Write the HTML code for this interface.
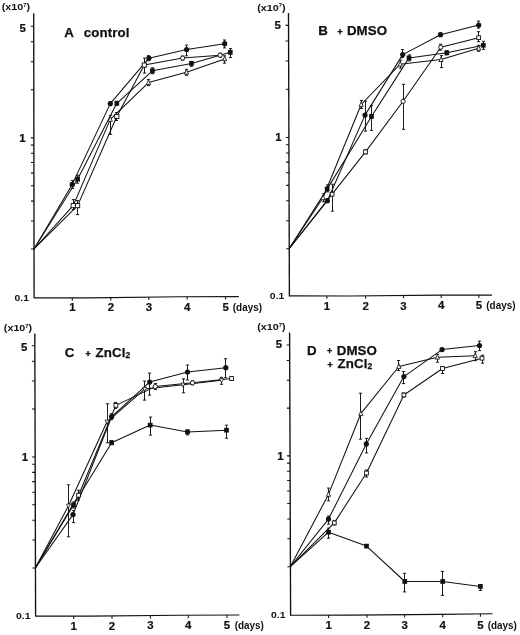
<!DOCTYPE html>
<html lang="en"><head><meta charset="utf-8"><title>Figure</title>
<style>
html,body{margin:0;padding:0;background:#fff;}
body{width:520px;height:635px;overflow:hidden;}
svg{display:block;}
text{font-family:"Liberation Sans", sans-serif;font-weight:bold;fill:#111;}
.tk{font-size:10.2px;stroke:#111;stroke-width:0.2px;}
.dy{font-size:10px;}
.tz{font-size:9.9px;}
.xl{font-size:9.3px;}
.tt{font-size:13.3px;letter-spacing:0.1px;stroke:#111;stroke-width:0.25px;}
.pl{font-size:8.8px;stroke:#111;stroke-width:0.4px;}
</style></head><body>
<svg width="520" height="635" viewBox="0 0 520 635">
<rect width="520" height="635" fill="#fff"/>
<g id="panelA">
<path d="M33.7 13.2 L34.1 298.3" fill="none" stroke="#111" stroke-width="1.35"/>
<path d="M34.1 297.8 L90 297.9 L180 296.7 L238.8 296.6" fill="none" stroke="#111" stroke-width="1.15"/>
<path d="M31.03 248.99H34.03M30.99 220.99H33.99M30.96 201.12H33.96M30.94 185.71H33.94M30.92 173.12H33.92M30.91 162.48H33.91M30.9 153.26H33.9M30.89 145.13H33.89M30.88 137.85H33.88M30.81 89.81H33.81M30.77 61.7H33.77M30.74 41.76H33.74M30.72 26.29H33.72" stroke="#111" stroke-width="1.05" fill="none"/>
<path d="M72.3 297.87V300.77M110.8 297.62V300.52M148.8 297.12V300.02M187.2 296.69V299.59M225.6 296.62V299.52" stroke="#111" stroke-width="1.05" fill="none"/>
<text class="tk" transform="translate(25.92 31.59) scale(1.12 1)" text-anchor="end">5</text>
<text class="tk" transform="translate(25.48 141.95) scale(1.12 1)" text-anchor="end">1</text>
<text class="tz" transform="translate(29 300.5) scale(1.05 1)" text-anchor="end">0.1</text>
<text class="tk" transform="translate(72.3 311.2) scale(1.12 1)" text-anchor="middle">1</text>
<text class="tk" transform="translate(110.8 311.05) scale(1.12 1)" text-anchor="middle">2</text>
<text class="tk" transform="translate(148.8 310.9) scale(1.12 1)" text-anchor="middle">3</text>
<text class="tk" transform="translate(187.2 310.75) scale(1.12 1)" text-anchor="middle">4</text>
<text class="tk" transform="translate(225.6 310.6) scale(1.12 1)" text-anchor="middle">5</text>
<text class="dy" x="232.8" y="310.6" textLength="29.2" lengthAdjust="spacingAndGlyphs">(days)</text>
<text class="xl" x="1.7" y="10.1" textLength="28.3" lengthAdjust="spacingAndGlyphs">(x10<tspan font-size="5" dy="-3.6">7</tspan><tspan dy="3.6">)</tspan></text>
<path d="M34 248.99L72.2 184.4L110.3 103.6L148.9 58.2L186.6 49.5L224.7 43.7" fill="none" stroke="#111" stroke-width="1.05" stroke-linejoin="round"/>
<path d="M34 248.99L77.6 179.2L116.8 103.3L152.4 70.8L191.5 63.4L230.3 52.3" fill="none" stroke="#111" stroke-width="1.05" stroke-linejoin="round"/>
<path d="M34 248.99L77.6 205.6L116.8 116.5L144.3 65.1L182.7 58.1L220.1 55.2" fill="none" stroke="#111" stroke-width="1.05" stroke-linejoin="round"/>
<path d="M34 248.99L73.2 205.6L110.3 119.4L148.5 82.6L186.4 72.3L224.7 58.9" fill="none" stroke="#111" stroke-width="1.05" stroke-linejoin="round"/>
<path d="M72.5 180.4V188.4M70.9 180.4h3.2M70.9 188.4h3.2M110.5 101.6V105.6M108.9 101.6h3.2M108.9 105.6h3.2M148.5 55.7V60.7M146.9 55.7h3.2M146.9 60.7h3.2M186.5 45.1V55.8M184.9 45.1h3.2M184.9 55.8h3.2M224.5 40V47.9M222.9 40h3.2M222.9 47.9h3.2M77.5 175.2V183.2M75.9 175.2h3.2M75.9 183.2h3.2M116.5 101.3V105.3M114.9 101.3h3.2M114.9 105.3h3.2M152.5 67.8V73.8M150.9 67.8h3.2M150.9 73.8h3.2M191.5 61.4V66.3M189.9 61.4h3.2M189.9 66.3h3.2M230.5 48.6V57.6M228.9 48.6h3.2M228.9 57.6h3.2M77.5 200.6V214.6M75.9 200.6h3.2M75.9 214.6h3.2M116.5 112.5V120.5M114.9 112.5h3.2M114.9 120.5h3.2M144.5 58.1V73.1M142.9 58.1h3.2M142.9 73.1h3.2M182.5 56.1V60.1M180.9 56.1h3.2M180.9 60.1h3.2M220.5 53.2V57.2M218.9 53.2h3.2M218.9 57.2h3.2M73.5 199.6V209.6M71.9 199.6h3.2M71.9 209.6h3.2M110.5 115.4V134.4M108.9 115.4h3.2M108.9 134.4h3.2M148.5 79.6V85.6M146.9 79.6h3.2M146.9 85.6h3.2M186.5 69.3V75.3M184.9 69.3h3.2M184.9 75.3h3.2M224.5 55.8V63.2M222.9 55.8h3.2M222.9 63.2h3.2" fill="none" stroke="#111" stroke-width="0.95"/>
<circle cx="72.2" cy="184.4" r="2.6" fill="#111"/>
<circle cx="110.3" cy="103.6" r="2.6" fill="#111"/>
<circle cx="148.9" cy="58.2" r="2.6" fill="#111"/>
<circle cx="186.6" cy="49.5" r="2.6" fill="#111"/>
<circle cx="224.7" cy="43.7" r="2.6" fill="#111"/>
<rect x="75.25" y="176.85" width="4.7" height="4.7" fill="#111"/>
<rect x="114.45" y="100.95" width="4.7" height="4.7" fill="#111"/>
<rect x="150.05" y="68.45" width="4.7" height="4.7" fill="#111"/>
<rect x="189.15" y="61.05" width="4.7" height="4.7" fill="#111"/>
<rect x="227.95" y="49.95" width="4.7" height="4.7" fill="#111"/>
<rect x="75.5" y="203.5" width="4.2" height="4.2" fill="#fff" stroke="#111" stroke-width="0.9"/>
<rect x="114.7" y="114.4" width="4.2" height="4.2" fill="#fff" stroke="#111" stroke-width="0.9"/>
<rect x="142.2" y="63" width="4.2" height="4.2" fill="#fff" stroke="#111" stroke-width="0.9"/>
<circle cx="182.7" cy="58.1" r="2.1" fill="#fff" stroke="#111" stroke-width="0.95"/>
<circle cx="220.1" cy="55.2" r="2.1" fill="#fff" stroke="#111" stroke-width="0.95"/>
<rect x="71.1" y="203.5" width="4.2" height="4.2" fill="#fff" stroke="#111" stroke-width="0.9"/>
<polygon points="110.3,116.6 108.25,121.3 112.35,121.3" fill="#fff" stroke="#111" stroke-width="0.85"/>
<polygon points="148.5,79.8 146.45,84.5 150.55,84.5" fill="#fff" stroke="#111" stroke-width="0.85"/>
<polygon points="186.4,69.5 184.35,74.2 188.45,74.2" fill="#fff" stroke="#111" stroke-width="0.85"/>
<polygon points="224.7,56.1 222.65,60.8 226.75,60.8" fill="#fff" stroke="#111" stroke-width="0.85"/>
</g>
<g id="panelB">
<path d="M288.5 13 L289.4 296.4" fill="none" stroke="#111" stroke-width="1.35"/>
<path d="M289.4 295.9 L350 296 L440 295.1 L491.9 295.1" fill="none" stroke="#111" stroke-width="1.15"/>
<path d="M286.25 248.71H289.25M286.16 220.69H289.16M286.1 200.81H289.1M286.05 185.39H289.05M286.01 172.8H289.01M285.97 162.14H288.97M285.95 152.92H288.95M285.92 144.78H288.92M285.9 137.5H288.9M285.74 89.21H288.74M285.65 60.97H288.65M285.59 40.93H288.59M285.54 25.39H288.54" stroke="#111" stroke-width="1.05" fill="none"/>
<path d="M326.9 295.96V298.86M365.6 295.84V298.74M403.5 295.47V298.37M441.2 295.1V298M478.9 295.1V298" stroke="#111" stroke-width="1.05" fill="none"/>
<text class="tk" transform="translate(280.94 28.69) scale(1.12 1)" text-anchor="end">5</text>
<text class="tk" transform="translate(281.6 141.2) scale(1.12 1)" text-anchor="end">1</text>
<text class="tz" transform="translate(284.3 298.6) scale(1.05 1)" text-anchor="end">0.1</text>
<text class="tk" transform="translate(326.9 310.4) scale(1.12 1)" text-anchor="middle">1</text>
<text class="tk" transform="translate(365.6 310.02) scale(1.12 1)" text-anchor="middle">2</text>
<text class="tk" transform="translate(403.5 309.65) scale(1.12 1)" text-anchor="middle">3</text>
<text class="tk" transform="translate(441.2 309.27) scale(1.12 1)" text-anchor="middle">4</text>
<text class="tk" transform="translate(478.9 308.9) scale(1.12 1)" text-anchor="middle">5</text>
<text class="dy" x="486.3" y="309" textLength="29.2" lengthAdjust="spacingAndGlyphs">(days)</text>
<text class="xl" x="257.2" y="10.8" textLength="28.3" lengthAdjust="spacingAndGlyphs">(x10<tspan font-size="5" dy="-3.6">7</tspan><tspan dy="3.6">)</tspan></text>
<path d="M289.1 248.71L327.4 200.7L365 115.1L402.7 54.6L440.5 34.7L478.7 25.1" fill="none" stroke="#111" stroke-width="1.05" stroke-linejoin="round"/>
<path d="M289.1 248.71L327.2 188.9L371.5 116.4L409 57.9L446.8 52.8L483.3 45.3" fill="none" stroke="#111" stroke-width="1.05" stroke-linejoin="round"/>
<path d="M289.1 248.71L332.1 194.2L365.5 151.9L403.1 101.3L440.8 47.2L478.7 37.7" fill="none" stroke="#111" stroke-width="1.05" stroke-linejoin="round"/>
<path d="M289.1 248.71L323 197.8L361.2 104.5L400.2 64.2L441 59.6L478.7 48.3" fill="none" stroke="#111" stroke-width="1.05" stroke-linejoin="round"/>
<path d="M327.5 198.7V202.7M325.9 198.7h3.2M325.9 202.7h3.2M365.5 101.1V131.1M363.9 101.1h3.2M363.9 131.1h3.2M402.5 49.6V57.6M400.9 49.6h3.2M400.9 57.6h3.2M440.5 33.2V36.2M438.9 33.2h3.2M438.9 36.2h3.2M478.5 21.1V28.1M476.9 21.1h3.2M476.9 28.1h3.2M327.5 184.9V191.9M325.9 184.9h3.2M325.9 191.9h3.2M371.5 105.4V130.4M369.9 105.4h3.2M369.9 130.4h3.2M409.5 54.9V60.9M407.9 54.9h3.2M407.9 60.9h3.2M446.5 50.8V54.8M444.9 50.8h3.2M444.9 54.8h3.2M483.5 41.3V49.3M481.9 41.3h3.2M481.9 49.3h3.2M332.5 184.2V211.2M330.9 184.2h3.2M330.9 211.2h3.2M365.5 149.9V153.9M363.9 149.9h3.2M363.9 153.9h3.2M403.5 84.3V129.3M401.9 84.3h3.2M401.9 129.3h3.2M440.5 44.2V50.2M438.9 44.2h3.2M438.9 50.2h3.2M478.5 31.7V41.7M476.9 31.7h3.2M476.9 41.7h3.2M323.5 193.8V201.8M321.9 193.8h3.2M321.9 201.8h3.2M361.5 100.5V108.5M359.9 100.5h3.2M359.9 108.5h3.2M400.5 60.2V68.2M398.9 60.2h3.2M398.9 68.2h3.2M441.5 55.6V67.6M439.9 55.6h3.2M439.9 67.6h3.2M478.5 45.3V51.3M476.9 45.3h3.2M476.9 51.3h3.2" fill="none" stroke="#111" stroke-width="0.95"/>
<circle cx="327.4" cy="200.7" r="2.6" fill="#111"/>
<circle cx="365" cy="115.1" r="2.6" fill="#111"/>
<circle cx="402.7" cy="54.6" r="2.6" fill="#111"/>
<circle cx="440.5" cy="34.7" r="2.6" fill="#111"/>
<circle cx="478.7" cy="25.1" r="2.6" fill="#111"/>
<rect x="324.85" y="186.55" width="4.7" height="4.7" fill="#111"/>
<rect x="369.15" y="114.05" width="4.7" height="4.7" fill="#111"/>
<rect x="406.65" y="55.55" width="4.7" height="4.7" fill="#111"/>
<rect x="444.45" y="50.45" width="4.7" height="4.7" fill="#111"/>
<rect x="480.95" y="42.95" width="4.7" height="4.7" fill="#111"/>
<rect x="330.2" y="192.3" width="3.8" height="3.8" fill="#fff" stroke="#111" stroke-width="0.9"/>
<rect x="363.6" y="150" width="3.8" height="3.8" fill="#fff" stroke="#111" stroke-width="0.9"/>
<circle cx="403.1" cy="101.3" r="2.1" fill="#fff" stroke="#111" stroke-width="0.95"/>
<circle cx="440.8" cy="47.2" r="2.1" fill="#fff" stroke="#111" stroke-width="0.95"/>
<rect x="476.8" y="35.8" width="3.8" height="3.8" fill="#fff" stroke="#111" stroke-width="0.9"/>
<polygon points="323,195 320.95,199.7 325.05,199.7" fill="#fff" stroke="#111" stroke-width="0.85"/>
<polygon points="361.2,101.7 359.15,106.4 363.25,106.4" fill="#fff" stroke="#111" stroke-width="0.85"/>
<polygon points="400.2,61.4 398.15,66.1 402.25,66.1" fill="#fff" stroke="#111" stroke-width="0.85"/>
<polygon points="441,56.8 438.95,61.5 443.05,61.5" fill="#fff" stroke="#111" stroke-width="0.85"/>
<polygon points="478.7,45.5 476.65,50.2 480.75,50.2" fill="#fff" stroke="#111" stroke-width="0.85"/>
</g>
<g id="panelC">
<path d="M34.8 333.6 L35.6 616.6" fill="none" stroke="#111" stroke-width="1.35"/>
<path d="M35.6 616.1 L90 616.1 L180 615.3 L239.4 615" fill="none" stroke="#111" stroke-width="1.15"/>
<path d="M32.46 568H35.46M32.38 540.03H35.38M32.33 520.19H35.33M32.28 504.8H35.28M32.25 492.23H35.25M32.22 481.6H35.22M32.19 472.39H35.19M32.17 464.27H35.17M32.15 457H35.15M32.01 409.08H35.01M31.93 381.04H34.93M31.88 361.15H34.88M31.83 345.72H34.83" stroke="#111" stroke-width="1.05" fill="none"/>
<path d="M73.7 616.1V619M112 615.9V618.8M150.4 615.56V618.46M188.2 615.26V618.16M227 615.06V617.96" stroke="#111" stroke-width="1.05" fill="none"/>
<text class="tk" transform="translate(27.43 350.67) scale(1.12 1)" text-anchor="end">5</text>
<text class="tk" transform="translate(28.05 460.8) scale(1.12 1)" text-anchor="end">1</text>
<text class="tz" transform="translate(30.5 618.8) scale(1.05 1)" text-anchor="end">0.1</text>
<text class="tk" transform="translate(73.7 629.9) scale(1.12 1)" text-anchor="middle">1</text>
<text class="tk" transform="translate(112 629.55) scale(1.12 1)" text-anchor="middle">2</text>
<text class="tk" transform="translate(150.4 629.2) scale(1.12 1)" text-anchor="middle">3</text>
<text class="tk" transform="translate(188.2 628.85) scale(1.12 1)" text-anchor="middle">4</text>
<text class="tk" transform="translate(227 628.5) scale(1.12 1)" text-anchor="middle">5</text>
<text class="dy" x="234.7" y="628.5" textLength="29.2" lengthAdjust="spacingAndGlyphs">(days)</text>
<text class="xl" x="3.85" y="331.4" textLength="28.3" lengthAdjust="spacingAndGlyphs">(x10<tspan font-size="5" dy="-3.6">7</tspan><tspan dy="3.6">)</tspan></text>
<path d="M35.3 568L73 514.6L111.6 416.7L149.7 382.1L187.5 372L225.8 367.7" fill="none" stroke="#111" stroke-width="1.05" stroke-linejoin="round"/>
<path d="M35.3 568L73.5 505L111.6 442.7L150.2 425.1L187.5 431.9L226.5 430.2" fill="none" stroke="#111" stroke-width="1.05" stroke-linejoin="round"/>
<path d="M35.3 568L78.6 495.2L115.9 405.4L155.3 386.6L192.5 382.8L231.6 378.5" fill="none" stroke="#111" stroke-width="1.05" stroke-linejoin="round"/>
<path d="M35.3 568L68.5 505.8L107 421.8L144.7 389.1L183 384.8L221.5 380.3" fill="none" stroke="#111" stroke-width="1.05" stroke-linejoin="round"/>
<path d="M73.5 510.6V522.6M71.9 510.6h3.2M71.9 522.6h3.2M111.5 413.7V419.7M109.9 413.7h3.2M109.9 419.7h3.2M149.5 373.1V395.1M147.9 373.1h3.2M147.9 395.1h3.2M187.5 365V380M185.9 365h3.2M185.9 380h3.2M225.5 358.7V377.7M223.9 358.7h3.2M223.9 377.7h3.2M73.5 502V508M71.9 502h3.2M71.9 508h3.2M111.5 440.7V444.7M109.9 440.7h3.2M109.9 444.7h3.2M150.5 417.1V435.1M148.9 417.1h3.2M148.9 435.1h3.2M187.5 429.9V434.9M185.9 429.9h3.2M185.9 434.9h3.2M226.5 425.2V438.2M224.9 425.2h3.2M224.9 438.2h3.2M78.5 490.2V500.2M76.9 490.2h3.2M76.9 500.2h3.2M115.5 402.4V408.4M113.9 402.4h3.2M113.9 408.4h3.2M155.5 383.6V389.6M153.9 383.6h3.2M153.9 389.6h3.2M192.5 380.8V384.8M190.9 380.8h3.2M190.9 384.8h3.2M231.5 376.5V380.5M229.9 376.5h3.2M229.9 380.5h3.2M68.5 484.8V536.8M66.9 484.8h3.2M66.9 536.8h3.2M107.5 403.8V442.8M105.9 403.8h3.2M105.9 442.8h3.2M144.5 381.1V400.1M142.9 381.1h3.2M142.9 400.1h3.2M183.5 378.8V392.8M181.9 378.8h3.2M181.9 392.8h3.2M221.5 377.3V384.3M219.9 377.3h3.2M219.9 384.3h3.2" fill="none" stroke="#111" stroke-width="0.95"/>
<circle cx="73" cy="514.6" r="2.6" fill="#111"/>
<circle cx="111.6" cy="416.7" r="2.6" fill="#111"/>
<circle cx="149.7" cy="382.1" r="2.6" fill="#111"/>
<circle cx="187.5" cy="372" r="2.6" fill="#111"/>
<circle cx="225.8" cy="367.7" r="2.6" fill="#111"/>
<rect x="71.15" y="502.65" width="4.7" height="4.7" fill="#111"/>
<rect x="109.25" y="440.35" width="4.7" height="4.7" fill="#111"/>
<rect x="147.85" y="422.75" width="4.7" height="4.7" fill="#111"/>
<rect x="185.15" y="429.55" width="4.7" height="4.7" fill="#111"/>
<rect x="224.15" y="427.85" width="4.7" height="4.7" fill="#111"/>
<rect x="76.7" y="493.3" width="3.8" height="3.8" fill="#fff" stroke="#111" stroke-width="0.9"/>
<rect x="114" y="403.5" width="3.8" height="3.8" fill="#fff" stroke="#111" stroke-width="0.9"/>
<circle cx="155.3" cy="386.6" r="2.1" fill="#fff" stroke="#111" stroke-width="0.95"/>
<circle cx="192.5" cy="382.8" r="2.1" fill="#fff" stroke="#111" stroke-width="0.95"/>
<rect x="229.7" y="376.6" width="3.8" height="3.8" fill="#fff" stroke="#111" stroke-width="0.9"/>
<polygon points="66.5,504.1 70.5,504.1 68.5,508.1" fill="#fff" stroke="#111" stroke-width="0.8"/>
<polygon points="105,420.1 109,420.1 107,424.1" fill="#fff" stroke="#111" stroke-width="0.8"/>
<polygon points="142.7,387.4 146.7,387.4 144.7,391.4" fill="#fff" stroke="#111" stroke-width="0.8"/>
<polygon points="181,383.1 185,383.1 183,387.1" fill="#fff" stroke="#111" stroke-width="0.8"/>
<polygon points="219.5,378.6 223.5,378.6 221.5,382.6" fill="#fff" stroke="#111" stroke-width="0.8"/>
</g>
<g id="panelD">
<path d="M289.6 332.6 L290.6 615.7" fill="none" stroke="#111" stroke-width="1.35"/>
<path d="M290.6 615.2 L350 615.05 L440 614.4 L492.5 613.8" fill="none" stroke="#111" stroke-width="1.15"/>
<path d="M287.43 566.71H290.43M287.33 538.78H290.33M287.26 518.96H290.26M287.21 503.59H290.21M287.16 491.04H290.16M287.12 480.42H290.12M287.09 471.22H290.09M287.06 463.11H290.06M287.04 455.85H290.04M286.87 408.14H289.87M286.77 380.23H289.77M286.7 360.42H289.7M286.64 345.06H289.64" stroke="#111" stroke-width="1.05" fill="none"/>
<path d="M328.6 615.1V618M367 614.93V617.83M404.6 614.66V617.56M442.7 614.37V617.27M480.4 613.94V616.84" stroke="#111" stroke-width="1.05" fill="none"/>
<text class="tk" transform="translate(282.04 347.76) scale(1.12 1)" text-anchor="end">5</text>
<text class="tk" transform="translate(283.54 459.65) scale(1.12 1)" text-anchor="end">1</text>
<text class="tz" transform="translate(285.5 617.9) scale(1.05 1)" text-anchor="end">0.1</text>
<text class="tk" transform="translate(328.6 628.6) scale(1.12 1)" text-anchor="middle">1</text>
<text class="tk" transform="translate(367 628.6) scale(1.12 1)" text-anchor="middle">2</text>
<text class="tk" transform="translate(404.6 628.6) scale(1.12 1)" text-anchor="middle">3</text>
<text class="tk" transform="translate(442.7 628.6) scale(1.12 1)" text-anchor="middle">4</text>
<text class="tk" transform="translate(480.4 628.6) scale(1.12 1)" text-anchor="middle">5</text>
<text class="dy" x="487.7" y="628.7" textLength="29.2" lengthAdjust="spacingAndGlyphs">(days)</text>
<text class="xl" x="257.2" y="330.1" textLength="28.3" lengthAdjust="spacingAndGlyphs">(x10<tspan font-size="5" dy="-3.6">7</tspan><tspan dy="3.6">)</tspan></text>
<path d="M290.3 566.71L328.5 519.1L366.3 443.9L403.9 376.6L442 349.6L479.5 345.6" fill="none" stroke="#111" stroke-width="1.05" stroke-linejoin="round"/>
<path d="M290.3 566.71L328.5 532.2L366.5 546.1L404.8 581.5L442.7 581.5L480.4 586.5" fill="none" stroke="#111" stroke-width="1.05" stroke-linejoin="round"/>
<path d="M290.3 566.71L334.3 522.9L366.5 473L403.9 395L442.5 368.5L482 358.2" fill="none" stroke="#111" stroke-width="1.05" stroke-linejoin="round"/>
<path d="M290.3 566.71L328.5 494.4L360.8 413.7L398.9 366.5L437.4 357.2L475.2 355.7" fill="none" stroke="#111" stroke-width="1.05" stroke-linejoin="round"/>
<path d="M328.5 516.1V524.1M326.9 516.1h3.2M326.9 524.1h3.2M366.5 438.4V452.9M364.9 438.4h3.2M364.9 452.9h3.2M403.5 371.6V383.6M401.9 371.6h3.2M401.9 383.6h3.2M442.5 348.1V351.1M440.9 348.1h3.2M440.9 351.1h3.2M479.5 341.1V350.6M477.9 341.1h3.2M477.9 350.6h3.2M328.5 528.2V538.2M326.9 528.2h3.2M326.9 538.2h3.2M366.5 544.6V547.6M364.9 544.6h3.2M364.9 547.6h3.2M404.5 573.3V591.9M402.9 573.3h3.2M402.9 591.9h3.2M442.5 571.4V595.4M440.9 571.4h3.2M440.9 595.4h3.2M480.5 584.5V590.5M478.9 584.5h3.2M478.9 590.5h3.2M334.5 520.9V524.9M332.9 520.9h3.2M332.9 524.9h3.2M366.5 470V477M364.9 470h3.2M364.9 477h3.2M403.5 393V397M401.9 393h3.2M401.9 397h3.2M442.5 366.5V373.5M440.9 366.5h3.2M440.9 373.5h3.2M482.5 355.2V363.2M480.9 355.2h3.2M480.9 363.2h3.2M328.5 488.1V500.9M326.9 488.1h3.2M326.9 500.9h3.2M360.5 393.2V439.2M358.9 393.2h3.2M358.9 439.2h3.2M398.5 360.5V370.5M396.9 360.5h3.2M396.9 370.5h3.2M437.5 354.2V362.2M435.9 354.2h3.2M435.9 362.2h3.2M475.5 351.7V360.7M473.9 351.7h3.2M473.9 360.7h3.2" fill="none" stroke="#111" stroke-width="0.95"/>
<circle cx="328.5" cy="519.1" r="2.6" fill="#111"/>
<circle cx="366.3" cy="443.9" r="2.6" fill="#111"/>
<circle cx="403.9" cy="376.6" r="2.6" fill="#111"/>
<circle cx="442" cy="349.6" r="2.6" fill="#111"/>
<circle cx="479.5" cy="345.6" r="2.6" fill="#111"/>
<rect x="326.15" y="529.85" width="4.7" height="4.7" fill="#111"/>
<rect x="364.15" y="543.75" width="4.7" height="4.7" fill="#111"/>
<rect x="402.45" y="579.15" width="4.7" height="4.7" fill="#111"/>
<rect x="440.35" y="579.15" width="4.7" height="4.7" fill="#111"/>
<rect x="478.05" y="584.15" width="4.7" height="4.7" fill="#111"/>
<rect x="332.4" y="521" width="3.8" height="3.8" fill="#fff" stroke="#111" stroke-width="0.9"/>
<rect x="364.6" y="471.1" width="3.8" height="3.8" fill="#fff" stroke="#111" stroke-width="0.9"/>
<rect x="402" y="393.1" width="3.8" height="3.8" fill="#fff" stroke="#111" stroke-width="0.9"/>
<rect x="440.6" y="366.6" width="3.8" height="3.8" fill="#fff" stroke="#111" stroke-width="0.9"/>
<rect x="480.1" y="356.3" width="3.8" height="3.8" fill="#fff" stroke="#111" stroke-width="0.9"/>
<polygon points="328.5,491.6 326.45,496.3 330.55,496.3" fill="#fff" stroke="#111" stroke-width="0.85"/>
<polygon points="360.8,410.9 358.75,415.6 362.85,415.6" fill="#fff" stroke="#111" stroke-width="0.85"/>
<polygon points="398.9,363.7 396.85,368.4 400.95,368.4" fill="#fff" stroke="#111" stroke-width="0.85"/>
<polygon points="437.4,354.4 435.35,359.1 439.45,359.1" fill="#fff" stroke="#111" stroke-width="0.85"/>
<polygon points="475.2,352.9 473.15,357.6 477.25,357.6" fill="#fff" stroke="#111" stroke-width="0.85"/>
</g>
<text class="tt" transform="translate(64.3 36.7) scale(1.0 1)">A</text>
<text class="tt" transform="translate(83.7 36.7) scale(1.0 1)">control</text>
<text class="tt" transform="translate(318.2 35.2) scale(1.0 1)">B</text>
<text class="pl" transform="translate(337.5 34.6) scale(1.0 1)">+</text>
<text class="tt" transform="translate(346.9 35.2) scale(1.0 1)">DMSO</text>
<text class="tt" transform="translate(64.7 357) scale(1.0 1)">C</text>
<text class="pl" transform="translate(85.4 356.5) scale(1.0 1)">+</text>
<text class="tt" transform="translate(95.6 357) scale(1.0 1)">ZnCl<tspan font-size="8.6" dy="0.9">2</tspan></text>
<text class="tt" transform="translate(307.1 355) scale(1.0 1)">D</text>
<text class="pl" transform="translate(327.1 354.4) scale(1.0 1)">+</text>
<text class="tt" transform="translate(336.7 355) scale(1.0 1)">DMSO</text>
<text class="pl" transform="translate(327.5 367.5) scale(1.0 1)">+</text>
<text class="tt" transform="translate(337.5 367.6) scale(1.0 1)">ZnCl<tspan font-size="8.6" dy="0.9">2</tspan></text>
</svg>
</body></html>
